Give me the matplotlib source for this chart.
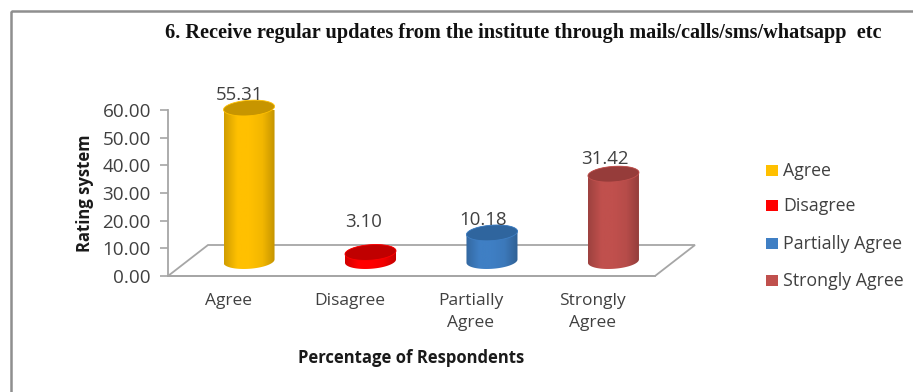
import numpy as np
import matplotlib
matplotlib.use("Agg")
import matplotlib.pyplot as plt
from matplotlib.patches import Polygon, Rectangle
from matplotlib.colors import LinearSegmentedColormap, to_rgb

categories = ["Agree", "Disagree", "Partially\nAgree", "Strongly\nAgree"]
legend_labels = ["Agree", "Disagree", "Partially Agree", "Strongly Agree"]
values = [55.31, 3.10, 10.18, 31.42]
value_labels = ["55.31", "3.10", "10.18", "31.42"]
colors = ["#FFC000", "#FF0000", "#3F7FC4", "#C0504D"]
top_colors = ["#C79500", "#C00000", "#2F659E", "#963C3A"]
yticks = [0, 10, 20, 30, 40, 50, 60]
title = "6. Receive regular updates from the institute through mails/calls/sms/whatsapp  etc"

W, H = 913, 392
fig = plt.figure(figsize=(W/100, H/100), dpi=100, facecolor="white")
SANS = ["Open Sans", "DejaVu Sans"]

bg = fig.add_axes([0, 0, 1, 1]); bg.set_xlim(0, W); bg.set_ylim(H, 0); bg.axis("off")
bg.add_patch(Rectangle((10.5, 11), W + 20, H, fill=False, ec="#8F8F8F", lw=1.8))

def X(p): return p / W
def Y(p): return 1 - p / H
ax = fig.add_axes([X(168), Y(276), X(655 - 168), (276 - 110) / H])
ppx = (655 - 168) / 4.009
ax.set_xlim(-0.667, 3.342); ax.set_ylim(0, 60)
ppy = 166 / 60
ax.patch.set_alpha(0)
for s in ["top", "right"]:
    ax.spines[s].set_visible(False)
for s in ["left", "bottom"]:
    ax.spines[s].set_color("#A6A6A6"); ax.spines[s].set_linewidth(1.3)
ax.set_xticks([])
ax.set_yticks(yticks, [f"{v:.2f}" for v in yticks], family=SANS, fontsize=13.6, color="#404040")
ax.tick_params(axis="y", length=5.8, color="#A6A6A6", width=1.2, pad=6.5)

# floor of the 3-D box
dx, dy = 40 / ppx, 31 / ppy
xl, xr = ax.get_xlim()
ax.add_patch(Polygon([(xl, 0), (xr, 0), (xr + dx, dy), (xl + dx, dy)], closed=True,
                     fill=False, ec="#A6A6A6", lw=1.3, clip_on=False, zorder=1))

base = 5.4
a = 0.21
b = 2.8
shear = 0.6
ts = np.linspace(0, 2 * np.pi, 120)

def ell(cx, cy, t):
    return cx + a * np.cos(t), cy + b * np.sin(t) + shear * np.cos(t)

for i, (v, c, tc) in enumerate(zip(values, colors, top_colors)):
    top = base + v
    xb, yb = ell(i, base, np.linspace(np.pi, 2 * np.pi, 60))
    xt, yt = ell(i, top, np.linspace(0, np.pi, 60))
    body = np.column_stack([np.r_[xb, xt], np.r_[yb, yt]])
    r = np.array(to_rgb(c))
    cmap = LinearSegmentedColormap.from_list("g", [r * .82, r, r, r * .95, r * .76])
    grad = np.linspace(0, 1, 64)[None, :]
    im = ax.imshow(grad, extent=[i - a, i + a, 0, 70], aspect="auto", cmap=cmap, zorder=3)
    poly = Polygon(body, closed=True, fc="none", ec="none", zorder=3)
    ax.add_patch(poly)
    im.set_clip_path(poly)
    xe, ye = ell(i, top, ts)
    ax.add_patch(Polygon(np.column_stack([xe, ye]), closed=True, fc=tc, ec=c, lw=.6, zorder=4, clip_on=False))
ax.set_xlim(xl, xr); ax.set_ylim(0, 60)

label_offsets = [(-9, 13), (-7, 30), (-9, 13), (-9, 15)]
for i, lab in enumerate(value_labels):
    ax.annotate(lab, (i, base + values[i]), xytext=label_offsets[i], textcoords="offset pixels",
                ha="center", va="center", family=SANS, fontsize=13.4, color="#404040",
                annotation_clip=False, zorder=6)

for i, lab in enumerate(categories):
    ax.annotate(lab, (i, 0), xytext=(-21, -17), textcoords="offset pixels", ha="center", va="top",
                family=SANS, fontsize=12.5, color="#404040", linespacing=1.5, annotation_clip=False)

fig.text(X(85), Y(193.5), "Rating system", rotation=90, ha="center", va="center",
         family=SANS, fontweight="bold", fontsize=12, color="#1a1a1a")
fig.text(X(411), Y(358), "Percentage of Respondents", ha="center", va="center",
         family=SANS, fontweight="bold", fontsize=12, color="#1a1a1a")
fig.text(X(523), Y(33), title, ha="center", va="center",
         family=["Liberation Serif"], fontweight="bold", fontsize=14.55, color="#111111")

for lab, c, yy in zip(legend_labels, colors, [170, 205, 243, 280]):
    bg.add_patch(Rectangle((766, yy - 5), 12, 10.5, fc=c, ec="none"))
    bg.text(783, yy + 0.5, lab, ha="left", va="center", family=SANS, fontsize=12.8, color="#404040")

fig.savefig("out.png", dpi=100)
